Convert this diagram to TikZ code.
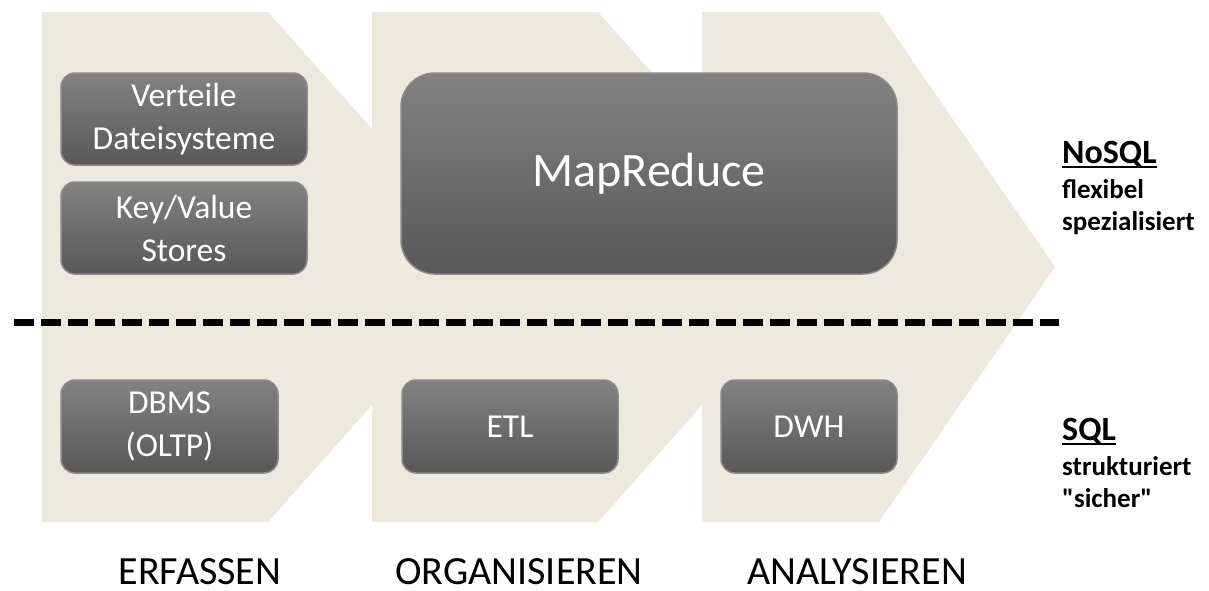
\documentclass[tikz,border=0pt]{standalone}
\usepackage{fontspec}
\setmainfont{Carlito}
% same face without the TeX quote mapping, for straight quotes
\newfontfamily\plainquotes{Carlito}
\definecolor{stagefill}{RGB}{236,233,223}
\definecolor{boxtop}{RGB}{130,130,130}
\definecolor{boxbottom}{RGB}{88,88,88}
\definecolor{boxrim}{RGB}{138,138,138}
% underline with a fixed bar below the text
\newcommand{\ulbar}[1]{\setbox0\hbox{#1}\rlap{\rule[-5pt]{\wd0}{2.5pt}}\box0}
\tikzset{
  stage/.style={fill=stagefill, draw=none},
  procbox/.style={rounded corners=14pt, top color=boxtop, bottom color=boxbottom,
    draw=boxrim, line width=1.5pt, text=white, align=center, inner sep=0pt,
    font=\fontsize{33.5}{43}\selectfont},
  phase/.style={anchor=base, inner sep=0pt, font=\fontsize{40}{46}\selectfont},
  kindhead/.style={anchor=base west, inner sep=0pt, font=\bfseries\fontsize{34}{40}\selectfont},
  kindnote/.style={anchor=base west, inner sep=0pt, font=\bfseries\fontsize{27}{32}\selectfont},
  divider/.style={line width=7pt, dash pattern=on 20pt off 7pt},
}
\begin{document}
\begin{tikzpicture}[x=1pt, y=-1pt]
\useasboundingbox (0,0) rectangle (1209,590);

% three process stages drawn as pentagon arrows
\fill[stage] (42,12) -- (268,12) -- (495,267) -- (268,522) -- (42,522) -- cycle;
\fill[stage] (372,12) -- (598,12) -- (825,267) -- (598,522) -- (372,522) -- cycle;
\fill[stage] (702,12) -- (879,12) -- (1055,267) -- (879,522) -- (702,522) -- cycle;

% NoSQL side
\node[procbox, minimum width=246pt, minimum height=92pt] (vds) at (184,119) {Verteile\\Dateisysteme};
\node[procbox, minimum width=246pt, minimum height=92pt] (kvs) at (184,228) {Key/Value\\Stores};
\node[procbox, rounded corners=34pt, minimum width=496pt, minimum height=201pt,
      font=\fontsize{48}{54}\selectfont] (mr) at (649,173.5) {MapReduce};

% separation between NoSQL and SQL
\coordinate (divl) at (14,322);
\coordinate (divr) at (1059,322);
\draw[divider] (divl) -- (divr);

% SQL side
\node[procbox, minimum width=217pt, minimum height=93pt] (dbms) at (169.5,426.5) {DBMS\\(OLTP)};
\node[procbox, minimum width=216pt, minimum height=93pt] (etl) at (510,426.5) {ETL};
\node[procbox, minimum width=176pt, minimum height=93pt] (dwh) at (809,426.5) {DWH};

% phase names
\node[phase] (erf) at (200,584) {ERFASSEN};
\node[phase] (org) at (519,584) {ORGANISIEREN};
\node[phase] (ana) at (857,584) {ANALYSIEREN};

% right-hand legend
\node[kindhead] (nosql) at (1062,163) {\ulbar{NoSQL}};
\node[kindnote] (flex) at (1062,198) {flexibel};
\node[kindnote] (spez) at (1062,230) {spezialisiert};
\node[kindhead] (sql) at (1062,440) {\ulbar{SQL}};
\node[kindnote] (strukt) at (1062,475) {strukturiert};
\node[kindnote] (sicher) at (1062,507) {\plainquotes\bfseries "sicher"};
\end{tikzpicture}
\end{document}
